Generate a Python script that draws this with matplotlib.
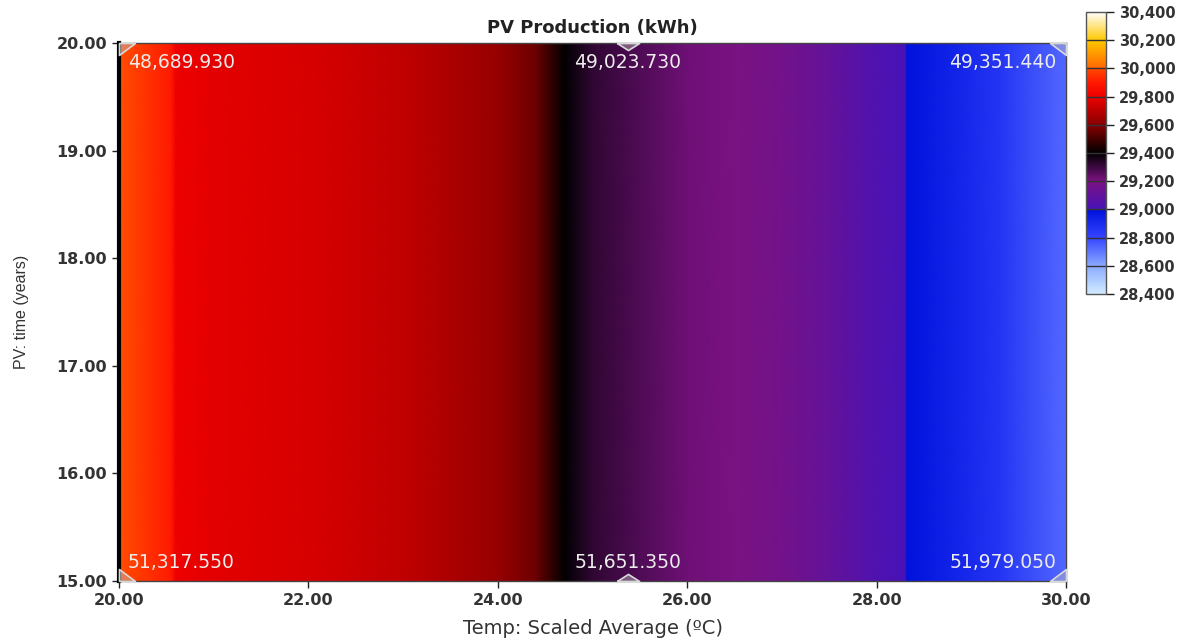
import matplotlib
matplotlib.use("Agg")
import matplotlib.pyplot as plt
import numpy as np
from matplotlib.colors import LinearSegmentedColormap, Normalize
from matplotlib.ticker import FuncFormatter

plt.rcParams["font.family"] = ["DejaVu Sans"]

# PV production along the temperature axis (constant over the time axis)
temps = [20.0, 20.55, 20.6, 21.0, 22.0, 23.0, 24.0, 24.4, 24.7,
         25.0, 25.5, 26.0, 26.5, 27.0, 27.5, 28.0, 28.3, 28.32,
         29.0, 29.3, 30.0]
pv_kwh = [30000, 29900, 29800, 29780, 29755, 29710, 29630, 29560, 29400,
          29320, 29270, 29220, 29200, 29170, 29110, 29030, 29001, 28995,
          28900, 28860, 28730]
years = [15.0, 20.0]

# values printed at the corner / slider handles
corner_labels_top = ["48,689.930", "49,023.730", "49,351.440"]
corner_labels_bottom = ["51,317.550", "51,651.350", "51,979.050"]
handle_x = 25.37

cbar_ticks = [28400, 28600, 28800, 29000, 29200, 29400, 29600, 29800, 30000, 30200, 30400]

vmin, vmax = 28400, 30400
stops = [
    (28400, "#d2ecff"),
    (28600, "#8aaaff"),
    (28800, "#3444ff"),
    (28995, "#0012dc"),
    (29000, "#4812b8"),
    (29200, "#7a1282"),
    (29400, "#000000"),
    (29600, "#880000"),
    (29800, "#ee0000"),
    (29900, "#ff1800"),
    (30000, "#ff4a00"),
    (30010, "#ff6a00"),
    (30200, "#ffc800"),
    (30400, "#ffffff"),
]
cmap = LinearSegmentedColormap.from_list(
    "pv", [((v - vmin) / (vmax - vmin), c) for v, c in stops], N=1024)
norm = Normalize(vmin, vmax)

fig = plt.figure(figsize=(11.87, 6.44), dpi=100)
ax = fig.add_axes([0.1003, 0.0978, 0.7978, 0.8354])

X, Y = np.meshgrid(temps, years)
Z = np.tile(pv_kwh, (len(years), 1))
mesh = ax.pcolormesh(X, Y, Z, cmap=cmap, norm=norm, shading="gouraud")

ax.set_xlim(20, 30)
ax.set_ylim(15, 20)
ax.set_xticks(np.arange(20, 30.1, 2))
ax.set_yticks(np.arange(15, 20.1, 1))
ax.xaxis.set_major_formatter(FuncFormatter(lambda v, p: f"{v:.2f}"))
ax.yaxis.set_major_formatter(FuncFormatter(lambda v, p: f"{v:.2f}"))
ax.tick_params(direction="out", length=5, width=1, colors="#222222",
               labelsize=11.5, labelcolor="#333333")
for lab in ax.get_xticklabels() + ax.get_yticklabels():
    lab.set_fontweight("bold")

for side in ["top", "right", "bottom"]:
    ax.spines[side].set_color("#444444")
    ax.spines[side].set_linewidth(1)
ax.spines["left"].set_color("black")
ax.spines["left"].set_linewidth(3)

ax.set_title("PV Production (kWh)", fontsize=13, fontweight="bold",
             color="#222222", pad=7)
ax.set_xlabel("Temp: Scaled Average (ºC)", fontsize=14, color="#333333",
              labelpad=8)
ax.set_ylabel("PV: time (years)", fontsize=11.5,
              family=["Liberation Sans Narrow", "Liberation Sans"],
              color="#333333", labelpad=20)

# handle markers on the corners and the middle slider
edge = "#d8d8d8"
face = (0.75, 0.75, 0.75, 0.45)
corner_tl = [(0, 0), (16, 0), (0, -12), (0, 0)]
corner_tr = [(0, 0), (-16, 0), (0, -12), (0, 0)]
corner_bl = [(0, 0), (16, 0), (0, 12), (0, 0)]
corner_br = [(0, 0), (-16, 0), (0, 12), (0, 0)]
tri_down = [(-11, 0), (11, 0), (0, -7), (-11, 0)]
tri_up = [(-11, 0), (11, 0), (0, 7), (-11, 0)]
for mk, (mx, my), ms in [(corner_tl, (20, 20), 23), (corner_tr, (30, 20), 23),
                         (corner_bl, (20, 15), 23), (corner_br, (30, 15), 23),
                         (tri_down, (handle_x, 20), 16), (tri_up, (handle_x, 15), 16)]:
    ax.plot(mx, my, marker=mk, markersize=ms, markerfacecolor=face,
            markeredgecolor=edge, markeredgewidth=1.2, clip_on=False, zorder=5)

txt = dict(fontsize=13.5, color="#ececec", zorder=6)
ax.text(20.09, 19.82, corner_labels_top[0], ha="left", va="center", **txt)
ax.text(handle_x, 19.82, corner_labels_top[1], ha="center", va="center", **txt)
ax.text(29.9, 19.82, corner_labels_top[2], ha="right", va="center", **txt)
ax.text(20.09, 15.17, corner_labels_bottom[0], ha="left", va="center", **txt)
ax.text(handle_x, 15.17, corner_labels_bottom[1], ha="center", va="center", **txt)
ax.text(29.9, 15.17, corner_labels_bottom[2], ha="right", va="center", **txt)

# colour bar
cax = fig.add_axes([0.9150, 0.5435, 0.0165, 0.4379])
cb = fig.colorbar(mesh, cax=cax, ticks=cbar_ticks)
cb.ax.yaxis.set_major_formatter(FuncFormatter(lambda v, p: f"{v:,.0f}"))
cb.ax.tick_params(direction="out", length=6, width=1, colors="#222222",
                  labelsize=10.5, labelcolor="#333333")
for lab in cb.ax.get_yticklabels():
    lab.set_fontweight("bold")
cb.outline.set_edgecolor("#555555")
cb.outline.set_linewidth(1)
for t in cbar_ticks[1:-1]:
    cb.ax.axhline(t, color="#333333", linewidth=1)

fig.savefig("out.png", dpi=100)
